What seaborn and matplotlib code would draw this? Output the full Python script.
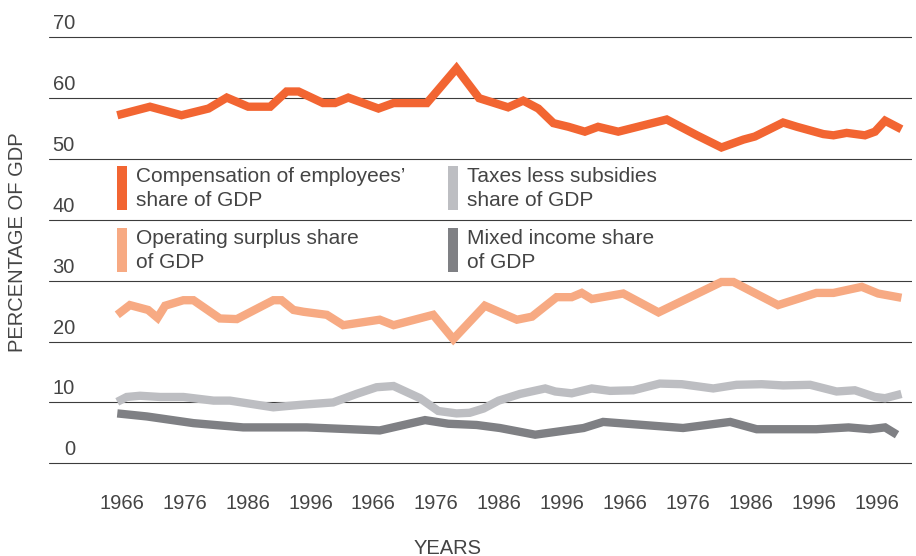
import matplotlib
matplotlib.use("Agg")
import matplotlib.pyplot as plt
import seaborn as sns
from matplotlib.patches import Patch, Rectangle
from matplotlib.legend_handler import HandlerPatch
from matplotlib.transforms import ScaledTranslation

# ---------------- data ----------------
tick_labels = ["1966", "1976", "1986", "1996", "1966", "1976", "1986",
               "1996", "1966", "1976", "1986", "1996", "1996"]
y_ticks = [0, 10, 20, 30, 40, 50, 60, 70]

comp_x = [-0.07, 0.45, 0.95, 1.38, 1.67, 2.01, 2.36, 2.62, 2.81, 3.20, 3.39,
          3.60, 4.08, 4.32, 4.85, 5.32, 5.68, 6.14, 6.38, 6.62, 6.86, 7.10,
          7.36, 7.57, 7.89, 8.66, 9.14, 9.53, 9.88, 10.06, 10.51, 10.73,
          11.15, 11.31, 11.52, 11.81, 11.97, 12.13, 12.39]
comp_y = [57.2, 58.6, 57.2, 58.3, 60.1, 58.6, 58.6, 61.1, 61.1, 59.2, 59.2,
          60.1, 58.3, 59.2, 59.2, 64.9, 60.0, 58.5, 59.6, 58.3, 55.9, 55.3,
          54.5, 55.3, 54.5, 56.5, 53.9, 51.9, 53.2, 53.7, 56.0, 55.3,
          54.1, 53.9, 54.3, 53.9, 54.5, 56.3, 54.9]

oper_x = [-0.07, 0.13, 0.42, 0.57, 0.69, 0.98, 1.14, 1.56, 1.83, 2.41, 2.54,
          2.73, 2.89, 3.26, 3.52, 4.10, 4.32, 4.95, 5.27, 5.77, 6.28, 6.52,
          6.91, 7.15, 7.31, 7.47, 7.97, 8.53, 9.53, 9.72, 10.43, 11.04,
          11.31, 11.76, 12.02, 12.39]
oper_y = [24.4, 26.0, 25.2, 23.9, 25.9, 26.8, 26.8, 23.8, 23.7, 26.8, 26.8,
          25.2, 24.9, 24.4, 22.7, 23.6, 22.7, 24.4, 20.4, 25.9, 23.6, 24.1,
          27.3, 27.3, 28.0, 27.0, 27.9, 24.8, 29.8, 29.8, 26.0, 28.0,
          28.0, 29.0, 27.9, 27.2]

tax_x = [-0.07, 0.08, 0.29, 0.61, 0.98, 1.46, 1.72, 2.41, 2.83, 3.36, 3.73,
         4.05, 4.32, 4.74, 5.03, 5.32, 5.53, 5.75, 5.99, 6.33, 6.73, 6.89,
         7.15, 7.47, 7.76, 8.13, 8.55, 8.90, 9.40, 9.77, 10.17, 10.51,
         10.94, 11.36, 11.65, 11.97, 12.13, 12.39]
tax_y = [10.1, 10.9, 11.1, 10.9, 10.9, 10.3, 10.3, 9.2, 9.6, 10.0, 11.4,
         12.5, 12.7, 10.7, 8.6, 8.2, 8.3, 9.0, 10.3, 11.4, 12.3, 11.8,
         11.5, 12.3, 11.9, 12.0, 13.1, 13.0, 12.3, 12.9, 13.0, 12.8,
         12.9, 11.8, 12.0, 10.9, 10.7, 11.4]

mixed_x = [-0.07, 0.40, 1.14, 1.93, 2.94, 4.10, 4.82, 5.19, 5.64, 6.01, 6.57,
           7.34, 7.65, 8.92, 9.67, 10.09, 11.04, 11.55, 11.89, 12.13, 12.32]
mixed_y = [8.2, 7.7, 6.6, 5.9, 5.9, 5.4, 7.1, 6.5, 6.3, 5.8, 4.7,
           5.8, 6.8, 5.8, 6.8, 5.6, 5.6, 5.9, 5.6, 5.9, 4.7]

series_labels = ["Compensation of employees\u2019\nshare of GDP",
                 "Operating surplus share\nof GDP",
                 "Taxes less subsidies\nshare of GDP",
                 "Mixed income share\nof GDP"]

# ---------------- style ----------------
C_COMP = "#f26532"
C_OPER = "#f7aa83"
C_TAX = "#bdbec2"
C_MIX = "#7f8084"
TXT = "#444444"
GRID = "#3c3c3c"

sns.set_theme(style="white")
plt.rcParams["font.family"] = ["Liberation Sans", "DejaVu Sans"]

W, H = 916, 556
fig = plt.figure(figsize=(W / 100, H / 100), dpi=100)
ppx = 6.085          # pixels per data unit (y)
y0 = -0.3
y1 = 70.3
bottom_px = 463.3 - y0 * ppx  # pixel row of y0 (from top)
ax_h = (y1 - y0) * ppx
ax = fig.add_axes([49 / W, (H - bottom_px) / H, 863 / W, ax_h / H])

lw = 6.0
for xs, ys, col in [(mixed_x, mixed_y, C_MIX), (tax_x, tax_y, C_TAX),
                    (oper_x, oper_y, C_OPER), (comp_x, comp_y, C_COMP)]:
    sns.lineplot(x=xs, y=ys, ax=ax, color=col, linewidth=lw,
                 solid_capstyle="butt", solid_joinstyle="miter")

ax.set_xlim(-1.155, 12.558)
ax.set_ylim(y0, y1)
for s in ax.spines.values():
    s.set_visible(False)

ax.set_yticks(y_ticks)
ax.set_yticklabels([str(v) for v in y_ticks])
ax.grid(axis="y", color=GRID, linewidth=0.8)
ax.grid(axis="x", visible=False)
ax.set_axisbelow(True)

ax.set_xticks(range(len(tick_labels)))
ax.set_xticklabels(tick_labels)

FS = 14.5
ax.tick_params(axis="x", length=0, pad=21, labelsize=FS, labelcolor=TXT)
ax.tick_params(axis="y", length=0, pad=-18.7, labelsize=FS, labelcolor=TXT)
for lab in ax.get_yticklabels():
    lab.set_va("baseline")
    lab.set_ha("right")
    lab.set_transform(lab.get_transform() +
                      ScaledTranslation(0, 8 / 100, fig.dpi_scale_trans))

ax.set_xlabel("YEARS", fontsize=FS, color=TXT)
ax.xaxis.label.set_va("center")
ax.xaxis.set_label_coords((448 - 49) / 863, (bottom_px - 548) / ax_h)
ax.set_ylabel("PERCENTAGE OF GDP", fontsize=FS, color=TXT)
ax.yaxis.label.set_va("center")
ax.yaxis.set_label_coords((18 - 49) / 863, (bottom_px - 242) / ax_h)

# ---------------- legend (two columns) ----------------
fs = 15
fs_px = fs * 100 / 72
BAR_DY = 2.0  # px, lift of the colour bar relative to its text


def bar_patch(legend, orig_handle, xdescent, ydescent, width, height, fontsize):
    return Rectangle((-xdescent, -ydescent + BAR_DY * 72 / 100), width, height)


leg_kw = dict(loc="upper left", frameon=False, borderpad=0, borderaxespad=0,
              fontsize=fs, handlelength=10 / fs_px, handleheight=2.87,
              handletextpad=9 / fs_px, labelspacing=0.8, labelcolor=TXT,
              bbox_transform=fig.transFigure,
              handler_map={Patch: HandlerPatch(patch_func=bar_patch)})
h1 = [Patch(facecolor=C_COMP, edgecolor="none"), Patch(facecolor=C_OPER, edgecolor="none")]
h2 = [Patch(facecolor=C_TAX, edgecolor="none"), Patch(facecolor=C_MIX, edgecolor="none")]
leg1 = ax.legend(h1, series_labels[:2], bbox_to_anchor=(117 / W, 1 - 167 / H), **leg_kw)
ax.add_artist(leg1)
leg2 = ax.legend(h2, series_labels[2:], bbox_to_anchor=(448 / W, 1 - 167 / H), **leg_kw)
for lg in (leg1, leg2):
    for t in lg.get_texts():
        t.set_linespacing(1.35)

fig.savefig("out.png", dpi=100)
